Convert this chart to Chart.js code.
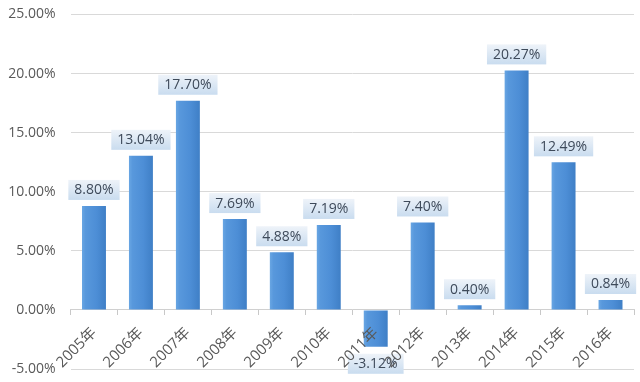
<!DOCTYPE html>
<html><head><meta charset="utf-8">
<script src="https://cdn.jsdelivr.net/npm/chart.js@4"></script>
<style>html,body{margin:0;padding:0;background:#fff;}</style>
</head><body>
<canvas id="c" width="640" height="382"></canvas>
<script>
const categories = ['2005年','2006年','2007年','2008年','2009年','2010年','2011年','2012年','2013年','2014年','2015年','2016年'];
const growthRates = [8.80, 13.04, 17.70, 7.69, 4.88, 7.19, -3.12, 7.40, 0.40, 20.27, 12.49, 0.84];
const yTicks = [-5, 0, 5, 10, 15, 20, 25];

const FONT = '"Open Sans", "Noto Sans CJK SC", sans-serif';
const BAR_RATIO = 0.51;

function barFill(c) {
  const ch = c.chart;
  const ca = ch.chartArea;
  if (!ca || c.type !== 'data' || !ch.scales.x) return '#4f90d6';
  const x = ch.scales.x.getPixelForValue(c.dataIndex);
  const half = (ca.width / categories.length) * BAR_RATIO / 2;
  const g = ch.ctx.createLinearGradient(x - half, 0, x + half, 0);
  g.addColorStop(0, '#69a6e3');
  g.addColorStop(0.15, '#5898dc');
  g.addColorStop(0.6, '#4d8ed6');
  g.addColorStop(1, '#3f7fc6');
  return g;
}

const valueLabels = {
  id: 'valueLabels',
  afterDatasetsDraw(chart) {
    const ctx = chart.ctx;
    const meta = chart.getDatasetMeta(0);
    ctx.save();
    ctx.font = '14px ' + FONT;
    ctx.textAlign = 'center';
    ctx.textBaseline = 'middle';
    meta.data.forEach((el, i) => {
      const v = growthRates[i];
      const txt = v.toFixed(2) + '%';
      const w = ctx.measureText(txt).width + 12;
      const h = 20;
      let top;
      if (v >= 0) top = el.y - 6 - h; else top = el.y + 7;
      const left = el.x - w / 2;
      const g = ctx.createLinearGradient(0, top, 0, top + h);
      g.addColorStop(0, '#eef3f9');
      g.addColorStop(1, '#c9dcef');
      ctx.fillStyle = g;
      ctx.fillRect(left, top, w, h);
      ctx.fillStyle = '#3e4a5a';
      ctx.fillText(txt, el.x, top + h / 2 + 0.5);
    });
    ctx.restore();
  }
};

new Chart(document.getElementById('c'), {
  type: 'bar',
  data: {
    labels: categories,
    datasets: [{
      data: growthRates,
      backgroundColor: barFill,
      borderWidth: 0,
      barPercentage: BAR_RATIO,
      categoryPercentage: 1
    }]
  },
  options: {
    responsive: false,
    animation: false,
    layout: { padding: { top: 14.5, right: 6, bottom: 13, left: 0 } },
    plugins: { legend: { display: false }, tooltip: { enabled: false } },
    scales: {
      x: {
        position: { y: 0 },
        offset: true,
        grid: { offset: true, drawOnChartArea: false, drawTicks: true, tickLength: 5, color: '#c8c8c8' },
        border: { color: '#d0d0d0' },
        ticks: {
          z: 1,
          autoSkip: false, minRotation: 45, maxRotation: 45, padding: 9,
          color: '#595959', font: { size: 15, family: FONT }
        }
      },
      y: {
        min: yTicks[0], max: yTicks[yTicks.length - 1],
        afterBuildTicks: s => { s.ticks = yTicks.map(v => ({ value: v })); },
        afterFit: s => { s.width = 70.5; },
        grid: { color: '#d9d9d9', drawTicks: true, tickLength: 15, tickColor: 'rgba(0,0,0,0)' },
        border: { display: false },
        ticks: {
          padding: 0, color: '#595959', font: { size: 14, family: FONT },
          callback: v => v.toFixed(2) + '%'
        }
      }
    }
  },
  plugins: [valueLabels]
});
</script>
</body></html>
